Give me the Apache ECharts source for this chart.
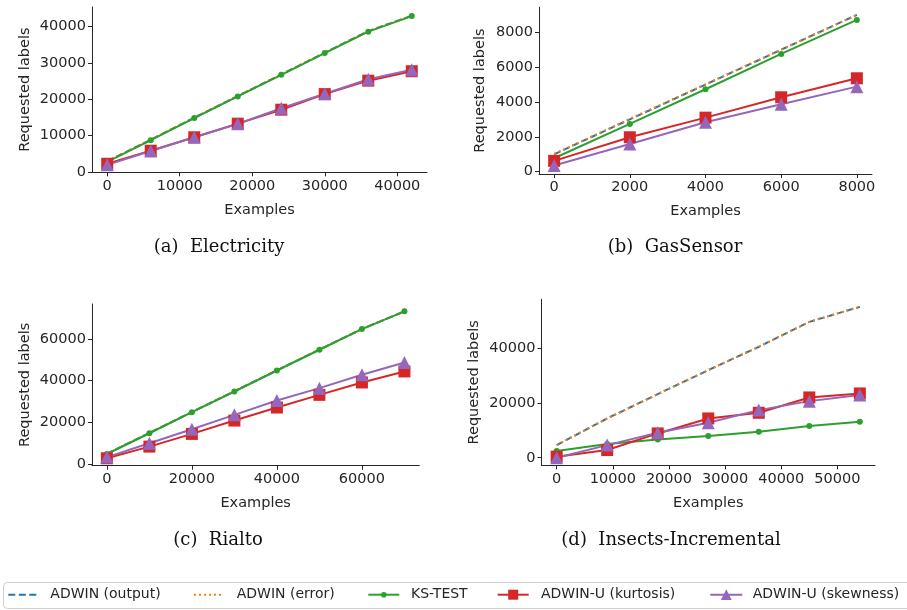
<!DOCTYPE html>
<html>
<head>
<meta charset="utf-8">
<script src="https://cdn.jsdelivr.net/npm/echarts@6.0.0/dist/echarts.min.js"></script>
<style>
  html, body { margin: 0; padding: 0; background: #fff; }
  #chart { width: 907px; height: 610px; }
</style>
</head>
<body>
<div id="chart"></div>
<script>
// (a) Electricity
const elecX = [0, 6000, 12000, 18000, 24000, 30000, 36000, 42000];
const elecOutput = [2900, 8800, 14900, 20850, 26800, 32800, 38750, 43000];
const elecError = [2950, 8850, 14950, 20900, 26850, 32850, 38800, 43000];
const elecKs = [2750, 8700, 14800, 20750, 26700, 32700, 38600, 42900];
const elecKurt = [2200, 5800, 9500, 13250, 17100, 21400, 25100, 27700];
const elecSkew = [1900, 5700, 9500, 13200, 17500, 21500, 25500, 28100];

// (b) GasSensor
const gasX = [0, 2000, 4000, 6000, 8000];
const gasOutput = [1000, 3000, 5000, 7000, 9000];
const gasError = [1020, 3030, 5020, 7000, 9000];
const gasKs = [770, 2740, 4730, 6760, 8710];
const gasKurt = [620, 1975, 3100, 4270, 5360];
const gasSkew = [350, 1590, 2840, 3870, 4880];

// (c) Rialto
const rialX = [0, 10000, 20000, 30000, 40000, 50000, 60000, 70000];
const rialOutput = [4900, 14900, 24950, 34900, 44950, 54900, 64850, 73300];
const rialError = [4950, 14950, 24950, 34950, 44950, 54950, 64900, 73300];
const rialKs = [4800, 14760, 24860, 34810, 44900, 54860, 64800, 73300];
const rialKurt = [2730, 8340, 14440, 20850, 27100, 33200, 39140, 44430];
const rialSkew = [3300, 9950, 16680, 23580, 30480, 36410, 42830, 48760];

// (d) Insects-Incremental
const insX = [0, 9000, 18000, 27000, 36000, 45000, 54000];
const insOutput = [4600, 14300, 23150, 31880, 40360, 49450, 54900];
const insError = [4600, 14300, 23150, 31880, 40360, 49450, 54900];
const insKs = [2420, 4970, 6670, 7880, 9450, 11520, 13090];
const insKurt = [400, 2790, 8850, 14300, 16360, 21940, 23400];
const insSkew = [0, 4600, 9090, 12730, 17330, 20600, 22790];

// tick labels
const elecXTicks = [0, 10000, 20000, 30000, 40000];
const elecYTicks = [0, 10000, 20000, 30000, 40000];
const gasXTicks = [0, 2000, 4000, 6000, 8000];
const gasYTicks = [0, 2000, 4000, 6000, 8000];
const rialXTicks = [0, 20000, 40000, 60000];
const rialYTicks = [0, 20000, 40000, 60000];
const insXTicks = [0, 10000, 20000, 30000, 40000, 50000];
const insYTicks = [0, 20000, 40000];

const names = ['ADWIN (output)', 'ADWIN (error)', 'KS-TEST', 'ADWIN-U (kurtosis)', 'ADWIN-U (skewness)'];
const captions = ['(a)  Electricity', '(b)  GasSensor', '(c)  Rialto', '(d)  Insects-Incremental'];

const panels = [
  { x: elecX, ys: [elecOutput, elecError, elecKs, elecKurt, elecSkew], xt: elecXTicks, yt: elecYTicks,
    grid: { left: 92, top: 7, width: 335, height: 165.3 }, xr: [-2100, 44100], yr: [-150, 45400], gap: 59 },
  { x: gasX, ys: [gasOutput, gasError, gasKs, gasKurt, gasSkew], xt: gasXTicks, yt: gasYTicks,
    grid: { left: 539, top: 7.3, width: 333, height: 166.7 }, xr: [-400, 8400], yr: [-135, 9435], gap: 51 },
  { x: rialX, ys: [rialOutput, rialError, rialKs, rialKurt, rialSkew], xt: rialXTicks, yt: rialYTicks,
    grid: { left: 92, top: 304, width: 327.3, height: 161.7 }, xr: [-3500, 73500], yr: [-830, 76830], gap: 59 },
  { x: insX, ys: [insOutput, insError, insKs, insKurt, insSkew], xt: insXTicks, yt: insYTicks,
    grid: { left: 541.5, top: 299.3, width: 333.5, height: 166 }, xr: [-2700, 56700], yr: [-2750, 57650], gap: 60 }
];
const captionPos = [[219, 247], [675, 247], [218, 540], [671, 540]];

const colors = ['#1f77b4', '#ff7f0e', '#2ca02c', '#d62728', '#9467bd'];
const axisColor = '#262626';
const sans = 'DejaVu Sans';

function seriesStyle(k) {
  if (k === 0) return { symbol: 'none', lineStyle: { width: 2, type: [7, 3] } };
  if (k === 1) return { symbol: 'none', lineStyle: { width: 2, type: [2, 3] } };
  if (k === 2) return { symbol: 'circle', symbolSize: 6, lineStyle: { width: 2 } };
  if (k === 3) return { symbol: 'rect', symbolSize: 12, lineStyle: { width: 2 } };
  return { symbol: 'triangle', symbolSize: 13, lineStyle: { width: 2 } };
}

const plain = v => String(v);

let grids = [], xAxes = [], yAxes = [], series = [];
panels.forEach((p, i) => {
  grids.push(p.grid);
  xAxes.push({
    type: 'value', gridIndex: i, min: p.xr[0], max: p.xr[1],
    name: 'Examples', nameLocation: 'middle', nameGap: 30,
    nameTextStyle: { fontFamily: sans, fontSize: 14.5, color: axisColor },
    axisLine: { onZero: false, lineStyle: { color: axisColor, width: 1 } },
    axisTick: { show: true, length: 4, customValues: p.xt, lineStyle: { color: axisColor } },
    axisLabel: { customValues: p.xt, formatter: plain, fontFamily: sans, fontSize: 14.5, color: axisColor, margin: 6 },
    splitLine: { show: false }
  });
  yAxes.push({
    type: 'value', gridIndex: i, min: p.yr[0], max: p.yr[1],
    name: 'Requested labels', nameLocation: 'middle', nameGap: p.gap,
    nameTextStyle: { fontFamily: sans, fontSize: 14.5, color: axisColor },
    axisLine: { show: true, onZero: false, lineStyle: { color: axisColor, width: 1 } },
    axisTick: { show: true, length: 4, customValues: p.yt, lineStyle: { color: axisColor } },
    axisLabel: { customValues: p.yt, formatter: plain, fontFamily: sans, fontSize: 14.5, color: axisColor, margin: 6 },
    splitLine: { show: false }
  });
  p.ys.forEach((vals, k) => {
    series.push(Object.assign({
      name: names[k], type: 'line', xAxisIndex: i, yAxisIndex: i,
      data: p.x.map((xv, j) => [xv, vals[j]]),
      color: colors[k], showSymbol: true, silent: true,
      emphasis: { disabled: true }
    }, seriesStyle(k)));
  });
});

// legend: one component per entry so each sits where the reference has it
const legendCenterY = 594.7;
const legendLineH = 16;
const legendSpec = [
  { left: 8.3, w: 28, h: 2, pad: 9, icon: 'path://M0,0h7v2h-7z M10.5,0h7v2h-7z M21,0h7v2h-7z' },
  { left: 194, w: 27, h: 2, pad: 10.7, icon: 'path://M0,0h2v2h-2z M5,0h2v2h-2z M10,0h2v2h-2z M15,0h2v2h-2z M20,0h2v2h-2z M25,0h2v2h-2z' },
  { left: 367.3, w: 31, h: 7, pad: 6.7 },
  { left: 496.7, w: 31, h: 12.5, pad: 7.3 },
  { left: 709.3, w: 32, h: 13.5, pad: 5.4 }
];
const legends = names.map((n, k) => {
  const s = legendSpec[k];
  const lg = {
    data: [n], left: s.left, top: legendCenterY - legendLineH / 2, padding: 0,
    itemWidth: s.w, itemHeight: s.h, selectedMode: false,
    textStyle: { fontFamily: sans, fontSize: 14, lineHeight: legendLineH, color: axisColor, padding: [0, 0, 0, s.pad] }
  };
  if (s.icon) {
    lg.icon = s.icon;
    lg.itemStyle = { color: colors[k], borderWidth: 0 };
  }
  return lg;
});

const graphics = captions.map((c, i) => ({
  type: 'text', x: captionPos[i][0], y: captionPos[i][1],
  style: { text: c, font: '18px "DejaVu Serif"', fill: '#111', textAlign: 'center', textVerticalAlign: 'middle' }
}));
graphics.push({
  type: 'rect', shape: { x: 3.5, y: 582.5, width: 940, height: 26, r: 4 },
  style: { fill: 'none', stroke: '#d0d0d0', lineWidth: 1 }
});

const option = {
  animation: false,
  backgroundColor: '#fff',
  grid: grids,
  xAxis: xAxes,
  yAxis: yAxes,
  legend: legends,
  graphic: graphics,
  series: series
};

const chart = echarts.init(document.getElementById('chart'));
chart.setOption(option);
</script>
</body>
</html>
